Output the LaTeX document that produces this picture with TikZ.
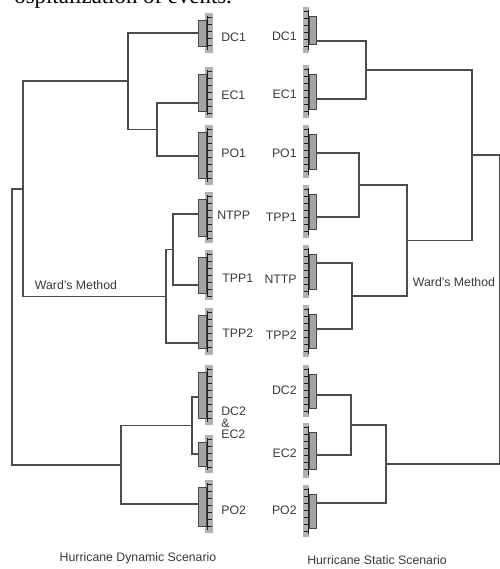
\documentclass[tikz,border=0pt]{standalone}
\usepackage{fontspec}
\setmainfont{Liberation Serif}
\setsansfont{Liberation Sans}

% small leaf block of a cluster (left tree: leaves point right)
\newcommand{\clusterL}[2]{%
    \fill[colfill] (205,#1) rectangle (213,#2);
    \filldraw[brkfill] (198,#1+7) rectangle (206,#2-7);
    \draw[tick] (207,#1+3) -- (207,#2-3);
    \pgfmathtruncatemacro\nleaf{(#2-#1)/7}
    \foreach \i in {1,...,\nleaf} {\draw[tick] (207,{#1+7*\i-3}) -- (212,{#1+7*\i-3});}
}
% small leaf block of a cluster (right tree: leaves point left)
\newcommand{\clusterR}[2]{%
    \fill[colfill] (303,#1) rectangle (309,#2);
    \filldraw[brkfill] (309,#1+9) rectangle (316,#2-9);
    \draw[tick] (308,#1+3) -- (308,#2-3);
    \pgfmathtruncatemacro\nleaf{(#2-#1)/7}
    \foreach \i in {1,...,\nleaf} {\draw[tick] (303.5,{#1+7*\i-3}) -- (308,{#1+7*\i-3});}
}

\begin{document}
\begin{tikzpicture}[x=0.02cm,y=-0.02cm,
        link/.style={draw=black!70,line width=0.6pt},
        tick/.style={draw=black!88,line width=0.45pt},
        colfill/.style={fill=black!30},
        brkfill/.style={fill=black!36,draw=black!72,line width=0.45pt},
        lab/.style={font=\sffamily\fontsize{7}{6.5}\selectfont,text=black!78},
        every node/.style={inner sep=0pt}]
    \useasboundingbox (0,0) rectangle (500,569);
    % cut-off line of the page text
    \begin{scope}
        \clip (0,0) rectangle (500,569);
        \node[anchor=base west,font=\fontsize{13}{13}\selectfont] (pagetxt) at (14,3.5) {ospitalization of events.};
    \end{scope}

    % Left tree
    \clusterL{13}{53}  \clusterL{67}{118}  \clusterL{125}{185}
    \clusterL{192}{243} \clusterL{250}{300} \clusterL{308}{355}
    \clusterL{365}{425} \clusterL{435}{473} \clusterL{480}{533}
    \coordinate (dc1L) at (198,33);
    \coordinate (ec1L) at (198,103);
    \coordinate (po1L) at (198,156);
    \coordinate (ntppL) at (198,214);
    \coordinate (tpp1L) at (198,285);
    \coordinate (tpp2L) at (198,343);
    \coordinate (dc2L) at (198,397);
    \coordinate (ec2L) at (198,454);
    \coordinate (po2L) at (198,504);
    \node[lab,anchor=west] (dc1Lt) at (221,37) {DC1};
    \node[lab,anchor=west] (ec1Lt) at (221,95) {EC1};
    \node[lab,anchor=west] (po1Lt) at (221,153) {PO1};
    \node[lab,anchor=west] (ntppLt) at (217,215) {NTPP};
    \node[lab,anchor=west] (tpp1Lt) at (222,278) {TPP1};
    \node[lab,anchor=west] (tpp2Lt) at (222,333) {TPP2};
    \node[lab,anchor=west,align=left] (dcecLt) at (221,423) {DC2\\\&\\EC2};
    \node[lab,anchor=west] (po2Lt) at (221,510) {PO2};
    \coordinate (jA) at (157,129.5);
    \coordinate (jB) at (128,81);
    \coordinate (jC) at (173,249.5);
    \coordinate (jD) at (166,296.5);
    \coordinate (jE) at (23,189);
    \coordinate (jF) at (192,425.5);
    \coordinate (jG) at (121,465);
    \coordinate (jH) at (12,327);
    \draw[link] (ec1L) -| (jA) |- (po1L);
    \draw[link] (dc1L) -| (jB) |- (jA);
    \draw[link] (ntppL) -| (jC) |- (tpp1L);
    \draw[link] (jC) -| (jD) |- (tpp2L);
    \draw[link] (jB) -| (jE) |- (jD);
    \draw[link] (dc2L) -| (jF) |- (ec2L);
    \draw[link] (jF) -| (jG) |- (po2L);
    \draw[link] (jE) -| (jH) |- (jG);
    \node[lab] (wardL) at (76,285) {Ward's Method};
    \node[lab] (titleL) at (138,558) {Hurricane Dynamic Scenario};

    % Right tree
    \clusterR{7}{53}   \clusterR{65}{118}  \clusterR{125}{178}
    \clusterR{185}{238} \clusterR{245}{298} \clusterR{305}{357}
    \clusterR{365}{417} \clusterR{423}{478} \clusterR{485}{537}
    \coordinate (dc1R) at (316,41);
    \coordinate (ec1R) at (316,99);
    \coordinate (po1R) at (316,153);
    \coordinate (tpp1R) at (316,217);
    \coordinate (nttpR) at (316,263);
    \coordinate (tpp2R) at (316,329);
    \coordinate (dc2R) at (316,395);
    \coordinate (ec2R) at (316,455);
    \coordinate (po2R) at (316,503);
    \node[lab,anchor=east] (dc1Rt) at (297,36) {DC1};
    \node[lab,anchor=east] (ec1Rt) at (297,94) {EC1};
    \node[lab,anchor=east] (po1Rt) at (297,153) {PO1};
    \node[lab,anchor=east] (tpp1Rt) at (297,217) {TPP1};
    \node[lab,anchor=east] (nttpRt) at (297,279) {NTTP};
    \node[lab,anchor=east] (tpp2Rt) at (297,335) {TPP2};
    \node[lab,anchor=east] (dc2Rt) at (297,390) {DC2};
    \node[lab,anchor=east] (ec2Rt) at (297,453) {EC2};
    \node[lab,anchor=east] (po2Rt) at (297,510) {PO2};
    \coordinate (rA) at (366,70);
    \coordinate (rB) at (359,185);
    \coordinate (rC) at (352,296);
    \coordinate (rD) at (407,240.5);
    \coordinate (rE) at (472,155);
    \coordinate (rF) at (351,425);
    \coordinate (rG) at (386,464);
    \coordinate (rH) at (499.6,310);
    \draw[link] (dc1R) -| (rA) |- (ec1R);
    \draw[link] (po1R) -| (rB) |- (tpp1R);
    \draw[link] (nttpR) -| (rC) |- (tpp2R);
    \draw[link] (rB) -| (rD) |- (rC);
    \draw[link] (rA) -| (rE) |- (rD);
    \draw[link] (dc2R) -| (rF) |- (ec2R);
    \draw[link] (rF) -| (rG) |- (po2R);
    \draw[link] (rE) -| (rH) |- (rG);
    \node[lab] (wardR) at (454,282) {Ward's Method};
    \node[lab] (titleR) at (377,560) {Hurricane Static Scenario};
\end{tikzpicture}
\end{document}
